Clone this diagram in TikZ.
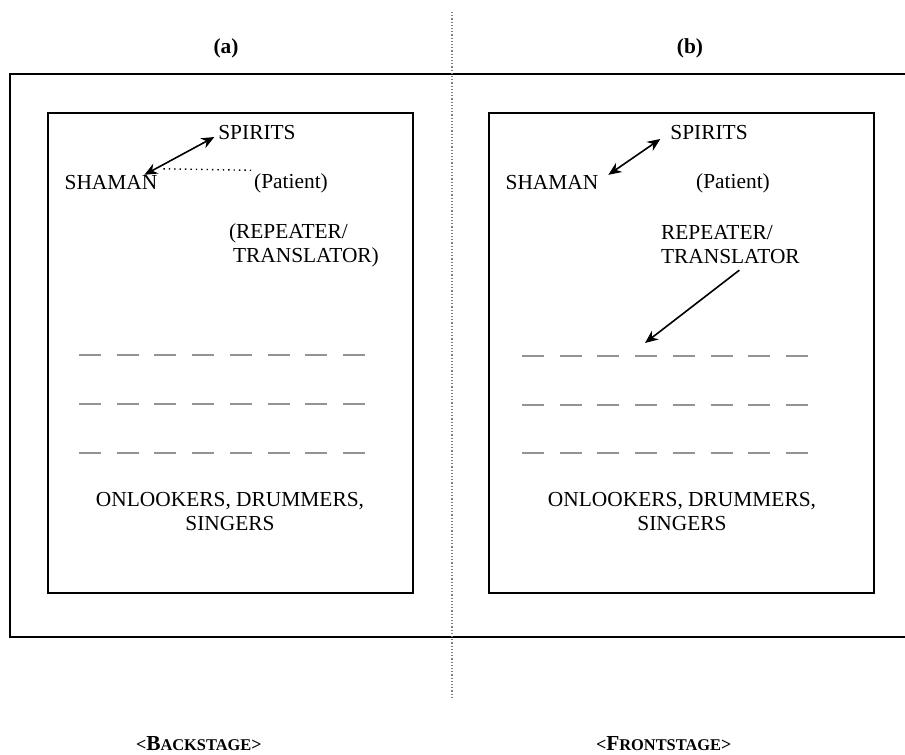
\documentclass[tikz,border=0pt]{standalone}
\usepackage{fontspec}
\setmainfont{Liberation Serif}
\usetikzlibrary{arrows.meta,positioning}

\begin{document}
\begin{tikzpicture}[x=0.5pt, y=-0.5pt, line width=1pt, >={Stealth[length=6.5pt,width=5.5pt]},
  lbl/.style={inner sep=0pt, font=\fontsize{10.7pt}{12pt}\selectfont},
  title/.style={inner sep=0pt, font=\fontsize{10.7pt}{12pt}\selectfont\bfseries},
  crowd/.style={gray!85, line width=0.9pt, dash pattern=on 11pt off 7.85pt}]
  \useasboundingbox (0,0) rectangle (905,755);
  \draw (10,74) rectangle (920,637);
  \draw (48,113) rectangle (413,593);
  \draw (489,113) rectangle (874,593);
  \draw[gray, line width=0.6pt, densely dotted] (452,12) -- (452,700);

  \node[title] (titleA) at (226,48) {(a)};
  \node[title] (titleB) at (690,48) {(b)};

  \node[lbl] (spiritsA) at (257,133) {SPIRITS};
  \node[lbl] (shamanA) at (111,183) {SHAMAN};
  \node[lbl] (patientA) at (291,183) {(Patient)};
  \node[lbl, align=left, anchor=west] (repeaterA) at (228,245) {(REPEATER/\\\hspace{2pt}TRANSLATOR)};
  \node[lbl, align=center] (crowdA) at (230,512) {ONLOOKERS, DRUMMERS,\\SINGERS};
  \draw[<->, line width=0.8pt] ([xshift=-7pt]shamanA.north east) -- ([xshift=-1.5pt,yshift=-2pt]spiritsA.west);
  \draw[dotted, line width=0.7pt] ([xshift=2.5pt,yshift=3pt]shamanA.north east) -- ([yshift=1pt]patientA.north west);
  \foreach \y in {355,404,453}
    \draw[crowd] (79,\y) -- (365,\y);

  \node[lbl] (spiritsB) at (709,133) {SPIRITS};
  \node[lbl] (shamanB) at (552,183) {SHAMAN};
  \node[lbl] (patientB) at (733,183) {(Patient)};
  \node[lbl, align=left, anchor=west] (repeaterB) at (660,245) {REPEATER/\\TRANSLATOR};
  \node[lbl, align=center] (crowdB) at (682,512) {ONLOOKERS, DRUMMERS,\\SINGERS};
  \coordinate (frontrow) at (645,343);
  \draw[<->, line width=0.8pt] ([xshift=4.5pt]shamanB.north east) -- ([xshift=-4.5pt,yshift=-3pt]spiritsB.west);
  \draw[->, line width=0.8pt] ([xshift=4.5pt,yshift=-2.5pt]repeaterB.south) -- (frontrow);
  \foreach \y in {356,405,453}
    \draw[crowd] (522,\y) -- (808,\y);

  \node[title, anchor=west] (backstage) at (135,744) {{\fontsize{9pt}{8pt}\selectfont<}B{\fontsize{8.2pt}{8pt}\selectfont ACKSTAGE}{\fontsize{9pt}{8pt}\selectfont>}};
  \node[title, anchor=west] (frontstage) at (595,744) {{\fontsize{9pt}{8pt}\selectfont<}F{\fontsize{8.2pt}{8pt}\selectfont RONTSTAGE}{\fontsize{9pt}{8pt}\selectfont>}};
\end{tikzpicture}
\end{document}
